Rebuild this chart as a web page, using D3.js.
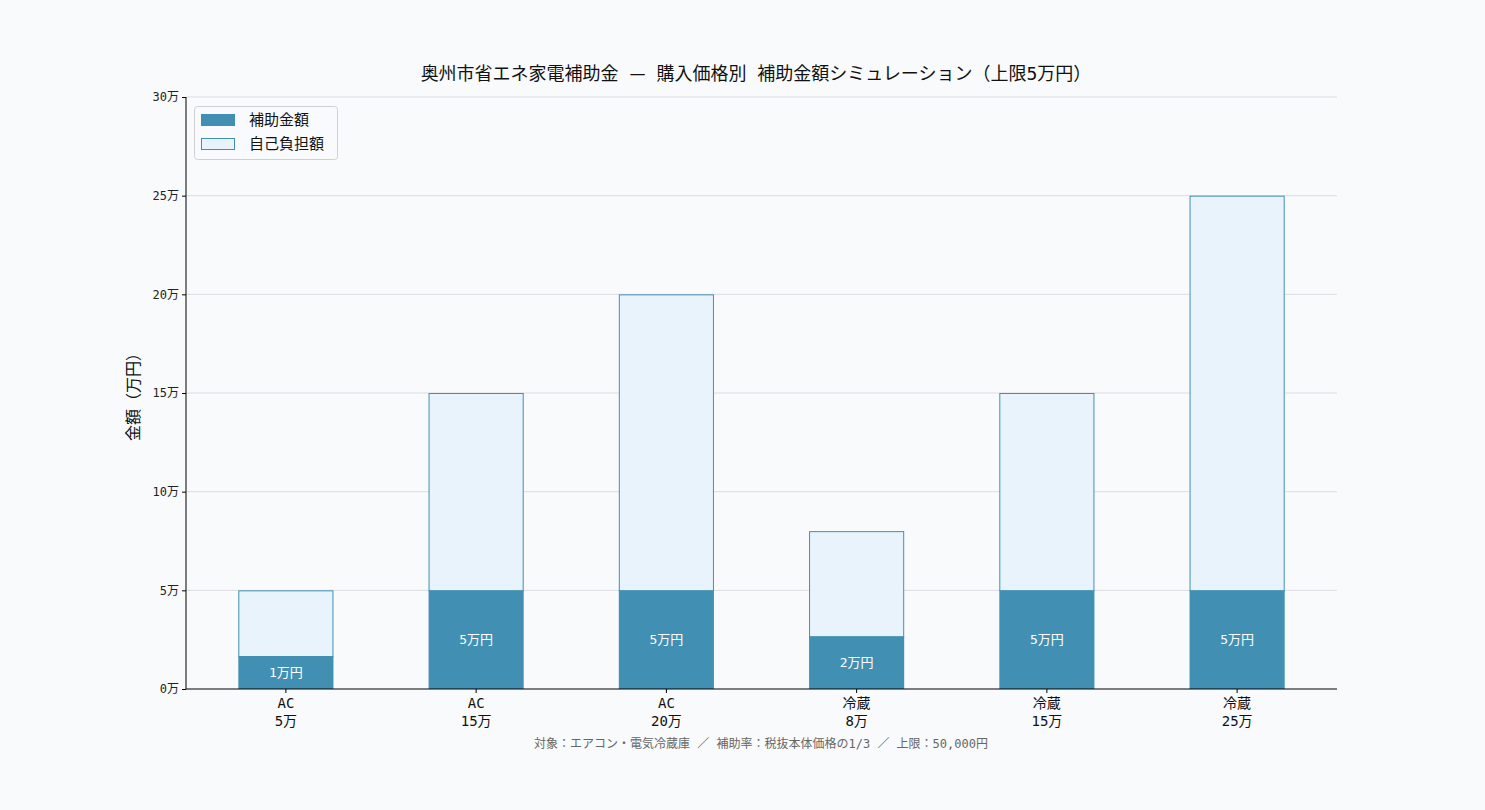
<!DOCTYPE html>
<html><head><meta charset="utf-8">
<script src="https://cdn.jsdelivr.net/npm/d3@7"></script>
<style>
body{margin:0;background:#f8fafc;}
svg{display:block;}
text{font-family:"DejaVu Sans Mono","Noto Sans CJK JP",monospace;}
</style></head>
<body>
<svg id="c" width="1485" height="810"></svg>
<script>
const categories = ["AC\n5万","AC\n15万","AC\n20万","冷蔵\n8万","冷蔵\n15万","冷蔵\n25万"];
const prices = [5, 15, 20, 8, 15, 25];           // 万円
const subsidy = [5/3, 5, 5, 8/3, 5, 5];           // 万円
const subsidyLabels = ["1万円","5万円","5万円","2万円","5万円","5万円"];
const yTicks = [0, 5, 10, 15, 20, 25, 30];
const seriesNames = ["補助金額","自己負担額"];
const titleParts = ["奥州市省エネ家電補助金 ", "—", " 購入価格別 補助金額シミュレーション（上限5万円）"];
const yLabel = "金額（万円）";
const footnote = "対象：エアコン・電気冷蔵庫 ／ 補助率：税抜本体価格の1/3 ／ 上限：50,000円";

const FONT = '"DejaVu Sans Mono","Noto Sans CJK JP",monospace';
const C_DARK = "#4190b4", C_LIGHT = "#e8f3fc";
const svg = d3.select("#c");
svg.append("rect").attr("width",1485).attr("height",810).attr("fill","#f8fafc");
const L=186, R=1337, T=97, B=689;

const x = d3.scaleBand().domain(d3.range(categories.length)).range([L,R]).paddingInner(0.5).paddingOuter(0.275);
const y = d3.scaleLinear().domain([0,30]).range([B,T]);

// grid
svg.append("g").selectAll("line").data(yTicks.filter(d=>d>0)).join("line")
  .attr("x1",L).attr("x2",R).attr("y1",d=>y(d)).attr("y2",d=>y(d))
  .attr("stroke","#dcdde0").attr("stroke-width",1);

// self-pay bars
svg.append("g").selectAll("rect").data(prices).join("rect")
  .attr("x",(d,i)=>x(i)+0.5).attr("width",x.bandwidth()-1)
  .attr("y",(d)=>y(d)+0.5).attr("height",(d,i)=>y(subsidy[i])-y(d))
  .attr("fill",C_LIGHT).attr("stroke",C_DARK).attr("stroke-width",1);
// subsidy bars
svg.append("g").selectAll("rect").data(subsidy).join("rect")
  .attr("x",(d,i)=>x(i)).attr("width",x.bandwidth())
  .attr("y",d=>y(d)).attr("height",d=>B-y(d))
  .attr("fill",C_DARK);
// labels
svg.append("g").selectAll("text").data(subsidy).join("text")
  .attr("x",(d,i)=>x(i)+x.bandwidth()/2).attr("y",d=>(y(d)+B)/2)
  .attr("text-anchor","middle").attr("dominant-baseline","central")
  .attr("fill","#ffffff").attr("font-size",13).text((d,i)=>subsidyLabels[i]);

// y axis
const ya = svg.append("g").attr("transform",`translate(${L},0)`)
  .call(d3.axisLeft(y).tickValues(yTicks).tickFormat(d=>d+"万").tickSize(4).tickPadding(3));
ya.select(".domain").attr("stroke","#000").attr("d",`M0,${B}V${T}`);
ya.selectAll(".tick line").attr("stroke","#000");
ya.selectAll("text").attr("font-size",12).attr("fill","#222").style("font-family",FONT);

// x axis
const xa = svg.append("g").attr("transform",`translate(0,${B})`)
  .call(d3.axisBottom(x).tickFormat("").tickSize(4));
xa.select(".domain").attr("stroke","#000").attr("d",`M${L},0H${R}`);
xa.selectAll(".tick line").attr("stroke","#000");
xa.selectAll(".tick").each(function(d){
  const parts = categories[d].split("\n");
  const t = d3.select(this).append("text").attr("fill","#111").attr("text-anchor","middle")
    .attr("font-size",14).style("font-family",FONT);
  t.append("tspan").attr("x",0).attr("y",19).text(parts[0]);
  t.append("tspan").attr("x",0).attr("y",37).text(parts[1]);
});

// title
const tt = svg.append("text").attr("x",756).attr("y",80).attr("text-anchor","middle")
  .attr("font-size",18).attr("fill","#111");
titleParts.forEach((p,i)=>{
  const s = tt.append("tspan").text(p);
  if (i===1) s.style("font-family",'"Noto Sans CJK JP",sans-serif');
});
// y label
svg.append("text").attr("transform",`translate(139,${(T+B)/2}) rotate(-90)`).attr("text-anchor","middle")
  .attr("font-size",16).attr("fill","#111").text(yLabel);
// footnote
svg.append("text").attr("x",761).attr("y",748).attr("text-anchor","middle")
  .attr("font-size",12).attr("fill","#666").text(footnote);

// legend
const lg = svg.append("g");
lg.append("rect").attr("x",194.5).attr("y",106.5).attr("width",143).attr("height",53).attr("rx",3)
  .attr("fill","#f8fafc").attr("fill-opacity",0.8).attr("stroke","#d0d0d0");
seriesNames.forEach((n,i)=>{
  const yy = 114 + i*24;
  lg.append("rect").attr("x",i?201.5:201).attr("y",i?yy+0.5:yy).attr("width",i?33:34).attr("height",i?11:12)
    .attr("fill",i?C_LIGHT:C_DARK).attr("stroke",i?C_DARK:"none");
  lg.append("text").attr("x",249).attr("y",yy+6).attr("dominant-baseline","central")
    .attr("font-size",15).attr("fill","#111").text(n);
});
</script>
</body></html>
